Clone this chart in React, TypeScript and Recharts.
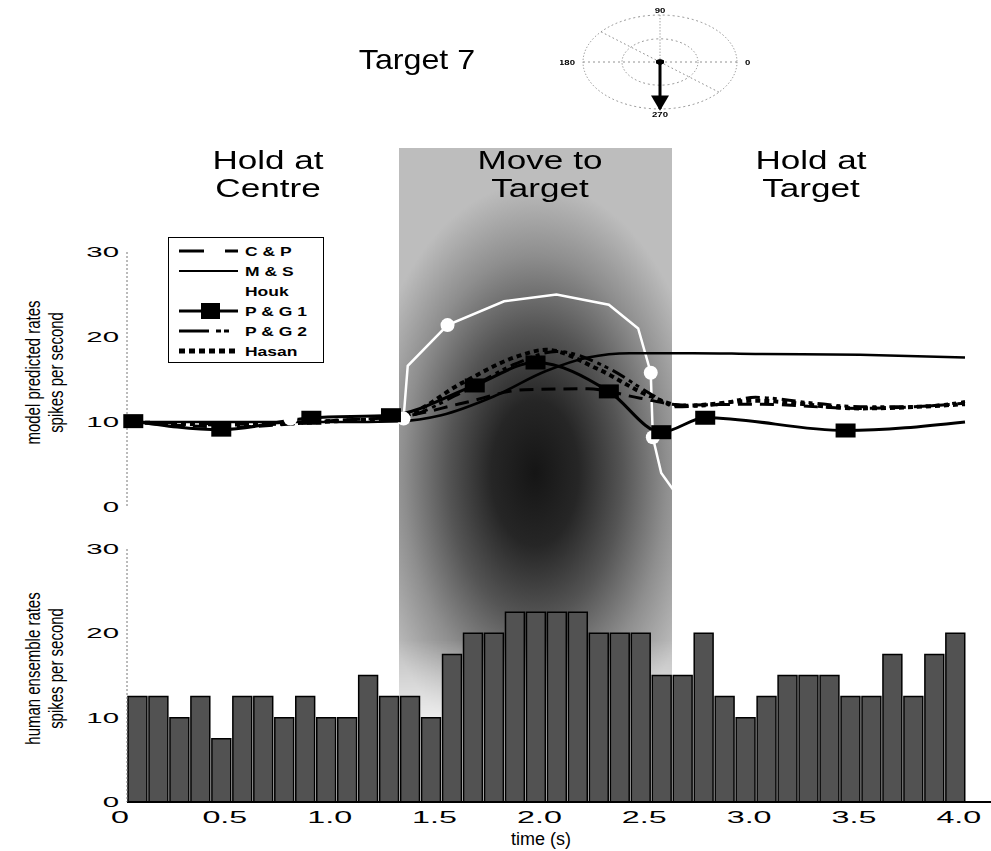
import React from 'react';
import {
  ComposedChart,
  Line,
  Bar,
  Scatter,
  XAxis,
  YAxis,
  Legend,
  RadarChart,
  Radar,
  PolarGrid,
  PolarAngleAxis,
  PolarRadiusAxis,
} from 'recharts';

const timeTicks = [0, 0.5, 1.0, 1.5, 2.0, 2.5, 3.0, 3.5, 4.0];
const rateTicks = [0, 10, 20, 30];

// trial phases (s)
const moveStart = 1.3;
const moveEnd = 2.6;

// model predicted rates (spikes/s) at sample times (s)
const cpTime = [0, 0.25, 0.5, 0.75, 1.0, 1.3, 1.6, 1.9, 2.2, 2.45, 2.65, 3.0, 3.5, 4.0];
const cpRate = [10, 9.6, 9.4, 9.7, 10.2, 10.6, 12.2, 13.8, 13.9, 12.8, 12.0, 12.1, 11.6, 12.2];

const msTime = [0, 0.5, 1.0, 1.3, 1.5, 1.75, 2.0, 2.2, 2.4, 2.7, 3.0, 3.5, 4.0];
const msRate = [10.0, 10.0, 10.0, 10.1, 10.8, 13.0, 16.0, 17.6, 18.1, 18.1, 18.0, 17.9, 17.6];

const houkTime = [0, 0.78, 1.32, 1.34, 1.53, 1.8, 2.05, 2.3, 2.44, 2.5, 2.51, 2.55, 2.62];
const houkRate = [10, 10.4, 10.4, 16.6, 21.4, 24.2, 25, 23.8, 21, 15.8, 8.2, 4.0, 1.6];
const houkMarkTime = [0.78, 1.32, 1.53, 2.5, 2.51];
const houkMarkRate = [10.4, 10.4, 21.4, 15.8, 8.2];

const pg1Time = [0.03, 0.45, 0.88, 1.26, 1.66, 1.95, 2.3, 2.55, 2.76, 3.43, 4.0];
const pg1Rate = [10.1, 9.1, 10.5, 10.8, 14.3, 17.0, 13.6, 8.8, 10.5, 9.0, 10.0];

const pg2Time = [0, 0.5, 1.0, 1.3, 1.6, 1.85, 2.05, 2.3, 2.5, 2.62, 2.8, 3.0, 3.25, 3.5, 3.75, 4.0];
const pg2Rate = [10, 9.8, 10.2, 10.5, 13.5, 16.8, 18.3, 16.3, 13.3, 11.8, 12.0, 12.9, 12.3, 11.8, 11.8, 12.4];

const hasanTime = [0, 0.5, 1.0, 1.3, 1.6, 1.85, 2.0, 2.25, 2.5, 2.65, 3.0, 3.5, 4.0];
const hasanRate = [10, 9.7, 10.1, 10.6, 14.6, 17.6, 18.5, 16.2, 13.0, 11.9, 12.5, 11.6, 12.1];

// human ensemble rates, 0.1 s bins from 0 to 4 s
const humanRates = [
  12.5, 12.5, 10, 12.5, 7.5, 12.5, 12.5, 10, 12.5, 10,
  10, 15, 12.5, 12.5, 10, 17.5, 20, 20, 22.5, 22.5,
  22.5, 22.5, 20, 20, 20, 15, 15, 20, 12.5, 10,
  12.5, 15, 15, 15, 12.5, 12.5, 17.5, 12.5, 17.5, 20,
];

// polar inset (clockwise from 0 deg): target 7 lies at 270
const polarLabels = ['0', '270', '180', '90'];
const targetReach = [0, 1, 0, 0];

const SANS = "'Liberation Sans', Arial, sans-serif";
const T0_X = 127;
const PX_PER_S = 209.5;

const zip = (ts: number[], vs: number[]) => ts.map((t, i) => ({ t, v: vs[i] }));

const binData = humanRates.map((rate, i) => ({ t: i * 0.1 + 0.05, rate }));
const polarData = polarLabels.map((angle, i) => ({ angle, reach: targetReach[i] }));

const legendRows = [
  { name: 'C & P', dash: '25 21', width: 3, color: '#000' },
  { name: 'M & S', dash: undefined, width: 2, color: '#000' },
  { name: 'Houk', dash: undefined, width: 3, color: '#fff' },
  { name: 'P & G 1', dash: undefined, width: 3, color: '#000', square: true },
  { name: 'P & G 2', dash: '30 7 5 3 5 100', width: 3, color: '#000' },
  { name: 'Hasan', dash: '6 4', width: 5, color: '#000' },
];

const YTick = (props: any) => {
  const { x, y, payload } = props;
  return (
    <g transform={`translate(${x},${y}) scale(2.1,1)`}>
      <text x={0} y={0} dy="0.36em" textAnchor="end" fontSize={14} fill="#000" fontFamily={SANS}>
        {payload.value}
      </text>
    </g>
  );
};

const XTick = (props: any) => {
  const { x, y, payload } = props;
  const v = payload.value;
  return (
    <g transform={`translate(${x - 7},${y}) scale(1.9,1)`}>
      <text x={0} y={13} textAnchor="middle" fontSize={17} fill="#000" fontFamily={SANS}>
        {v === 0 ? '0' : v.toFixed(1)}
      </text>
    </g>
  );
};

const axisTitle = (lines: string[]) => (props: any) => {
  const vb = props.viewBox || { y: 0, height: 0 };
  const cy = vb.y + vb.height / 2 - 7;
  return (
    <g transform={`translate(45,${cy}) rotate(-90) scale(1,1.3)`}>
      <text textAnchor="middle" fontSize={15} fill="#000" fontFamily={SANS}>
        <tspan x={0} y={-4}>{lines[0]}</tspan>
        <tspan x={0} y={13.7}>{lines[1]}</tspan>
      </text>
    </g>
  );
};

const timeTitle = (props: any) => {
  const vb = props.viewBox || { x: 0, y: 0, width: 0, height: 0 };
  const x = vb.x + 2.0 * PX_PER_S - 5;
  return (
    <g transform={`translate(${x},${vb.y + 43}) scale(1.2,1.2)`}>
      <text textAnchor="middle" fontSize={15} fill="#000" fontFamily={SANS}>
        time (s)
      </text>
    </g>
  );
};

const squareDot = (p: any) => {
  const last = pg1Time[pg1Time.length - 1];
  if (!p.payload || p.payload.t === last) return <g key={p.index} />;
  return <rect key={p.index} x={p.cx - 10} y={p.cy - 7} width={20} height={14} fill="#000" />;
};

const whiteDot = (p: any) => <circle cx={p.cx} cy={p.cy} r={7} fill="#fff" />;

const LegendBox = () => (
  <div style={{ width: 156, height: 126, background: '#fff', border: '1px solid #000', boxSizing: 'border-box' }}>
    <svg width={154} height={124}>
      {legendRows.map((s, i) => {
        const y = 13 + i * 20;
        return (
          <g key={s.name}>
            <line x1={10} x2={69} y1={y} y2={y} stroke={s.color} strokeWidth={s.width} strokeDasharray={s.dash} />
            {s.square && <rect x={32} y={y - 8} width={19} height={16} fill="#000" />}
            <g transform={`translate(76,${y}) scale(1.4,1)`}>
              <text x={0} y={0} dy="0.36em" fontSize={12.5} fontWeight="bold" fill="#000" fontFamily={SANS}>
                {s.name}
              </text>
            </g>
          </g>
        );
      })}
    </svg>
  </div>
);

const PolarTick = (props: any) => {
  const { x, y, payload, textAnchor } = props;
  return (
    <g transform={`translate(${x},${y}) scale(1.2,${1 / 0.61})`}>
      <text x={0} y={0} dy="0.35em" textAnchor={textAnchor} fontSize={8} fontWeight="bold" fill="#000" fontFamily={SANS}>
        {payload.value}
      </text>
    </g>
  );
};

const ArrowDot = (props: any) => {
  const { cx, cy, payload, index } = props;
  const val = payload && payload.value !== undefined ? payload.value : props.value;
  if (val > 0) {
    return (
      <polygon
        key={index}
        points={`${cx - 9},${cy - 22} ${cx + 9},${cy - 22} ${cx},${cy + 3}`}
        fill="#000"
      />
    );
  }
  return <circle key={index} cx={cx} cy={cy} r={4} fill="#000" />;
};

const phaseLabel = (cx: number, l1: string, l2: string) => (
  <div
    style={{
      position: 'absolute',
      left: cx - 100,
      top: 146,
      width: 200,
      textAlign: 'center',
      fontSize: 26,
      lineHeight: '28px',
      fontFamily: SANS,
      transform: 'scaleX(1.35)',
      color: '#000',
    }}
  >
    {l1}
    <br />
    {l2}
  </div>
);

export default function App() {
  return (
    <div style={{ position: 'absolute', left: 0, top: 0, width: 991, height: 851, background: '#fff', overflow: 'hidden' }}>
      {/* movement phase shading */}
      <div
        style={{
          position: 'absolute',
          left: T0_X + moveStart * PX_PER_S,
          width: (moveEnd - moveStart) * PX_PER_S,
          top: 148,
          height: 600,
          background:
            'radial-gradient(ellipse 175px 290px at 136px 325px, #151515 0%, #262626 25%, #555 50%, #8e8e8e 75%, #bdbdbd 100%)',
          WebkitMaskImage: 'linear-gradient(to bottom, #000 82%, transparent 100%)',
          maskImage: 'linear-gradient(to bottom, #000 82%, transparent 100%)',
        }}
      />

      <div
        style={{
          position: 'absolute',
          left: 417 - 100,
          width: 200,
          top: 44,
          textAlign: 'center',
          fontSize: 28,
          fontFamily: SANS,
          transform: 'scaleX(1.15)',
        }}
      >
        Target 7
      </div>

      <div
        style={{
          position: 'absolute',
          left: 660 - 100,
          top: 62 - 100,
          width: 200,
          height: 200,
          transform: 'scaleY(0.61)',
          transformOrigin: '50% 50%',
        }}
      >
        <RadarChart
          width={200}
          height={200}
          data={polarData}
          cx={100}
          cy={100}
          outerRadius={77}
          startAngle={0}
          endAngle={-360}
          margin={{ top: 0, right: 0, bottom: 0, left: 0 }}
        >
          <PolarGrid
            gridType="circle"
            polarRadius={[38, 77]}
            polarAngles={[0, 90, 140, 180, 270, 320]}
            stroke="#777"
            strokeDasharray="2 3"
          />
          <PolarAngleAxis dataKey="angle" tick={PolarTick} axisLine={false} tickLine={false} />
          <PolarRadiusAxis domain={[0, 1]} tick={false} axisLine={false} />
          <Radar dataKey="reach" stroke="#000" strokeWidth={3} fill="none" fillOpacity={0} dot={ArrowDot} isAnimationActive={false} />
        </RadarChart>
      </div>

      {phaseLabel(268, 'Hold at', 'Centre')}
      {phaseLabel(540, 'Move to', 'Target')}
      {phaseLabel(811, 'Hold at', 'Target')}

      {/* model predictions */}
      <div style={{ position: 'absolute', left: 0, top: 230 }}>
        <ComposedChart width={991} height={300} margin={{ top: 22, right: 26, bottom: 23, left: 67 }}>
          <XAxis type="number" dataKey="t" domain={[0, 4]} hide />
          <YAxis
            type="number"
            domain={[0, 30]}
            ticks={rateTicks}
            width={60}
            tick={YTick}
            tickLine={false}
            axisLine={{ stroke: '#777', strokeDasharray: '2 2' }}
            label={{ content: axisTitle(['model predicted rates', 'spikes per second']) }}
          />
          <Legend
            layout="vertical"
            align="center"
            verticalAlign="middle"
            wrapperStyle={{ left: 168, top: 7, width: 156, height: 126 }}
            content={() => <LegendBox />}
          />
          <Line data={zip(houkTime, houkRate)} dataKey="v" name="Houk" type="linear" stroke="#fff" strokeWidth={2.5} dot={false} isAnimationActive={false} />
          <Line data={zip(msTime, msRate)} dataKey="v" name="M & S" type="monotone" stroke="#000" strokeWidth={2.5} dot={false} isAnimationActive={false} />
          <Line data={zip(cpTime, cpRate)} dataKey="v" name="C & P" type="monotone" stroke="#000" strokeWidth={3} strokeDasharray="14 8" dot={false} isAnimationActive={false} />
          <Line data={zip(pg2Time, pg2Rate)} dataKey="v" name="P & G 2" type="monotone" stroke="#000" strokeWidth={3} strokeDasharray="14 5 4 4 4 5" dot={false} isAnimationActive={false} />
          <Line data={zip(hasanTime, hasanRate)} dataKey="v" name="Hasan" type="monotone" stroke="#000" strokeWidth={4} strokeDasharray="5 4" dot={false} isAnimationActive={false} />
          <Line data={zip(pg1Time, pg1Rate)} dataKey="v" name="P & G 1" type="monotone" stroke="#000" strokeWidth={3} dot={squareDot} activeDot={false} isAnimationActive={false} />
          <Scatter data={zip(houkMarkTime, houkMarkRate)} dataKey="v" name="Houk marks" shape={whiteDot} isAnimationActive={false} />
        </ComposedChart>
      </div>

      {/* human ensemble */}
      <div style={{ position: 'absolute', left: 0, top: 520 }}>
        <ComposedChart width={991} height={331} data={binData} margin={{ top: 29, right: 0, bottom: 5, left: 67 }}>
          <XAxis
            type="number"
            dataKey="t"
            domain={[0, 4.12]}
            ticks={timeTicks}
            allowDataOverflow
            height={44}
            tick={XTick}
            tickLine={false}
            axisLine={{ stroke: '#000', strokeWidth: 2 }}
            label={{ content: timeTitle }}
          />
          <YAxis
            type="number"
            domain={[0, 30]}
            ticks={rateTicks}
            width={60}
            tick={YTick}
            tickLine={false}
            axisLine={{ stroke: '#777', strokeDasharray: '2 2' }}
            label={{ content: axisTitle(['human ensemble rates', 'spikes per second']) }}
          />
          <Bar dataKey="rate" barSize={21} fill="#525252" stroke="#000" strokeWidth={1.5} isAnimationActive={false} />
        </ComposedChart>
      </div>
    </div>
  );
}
